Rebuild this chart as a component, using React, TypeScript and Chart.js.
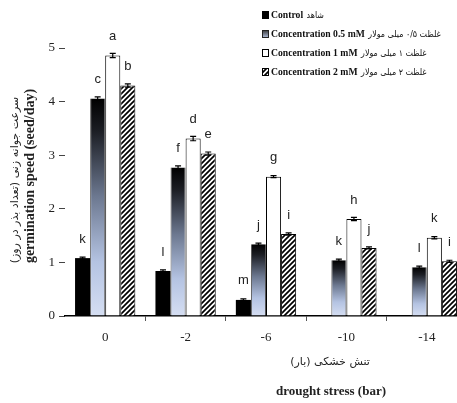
import React, { useEffect, useRef } from 'react';
import { Chart, registerables } from 'chart.js';
Chart.register(...registerables);

const categories = ['0', '-2', '-6', '-10', '-14'];
const controlValues = [1.08, 0.84, 0.3, 0, 0];
const c05Values = [4.06, 2.77, 1.34, 1.04, 0.91];
const c1Values = [4.86, 3.31, 2.6, 1.81, 1.46];
const c2Values = [4.3, 3.03, 1.53, 1.27, 1.02];

const controlErr = [0.02, 0.02, 0.02, 0, 0];
const c05Err = [0.03, 0.03, 0.02, 0.02, 0.02];
const c1Err = [0.04, 0.04, 0.02, 0.03, 0.02];
const c2Err = [0.03, 0.03, 0.02, 0.02, 0.02];

const controlLetters = ['k', 'l', 'm', '', ''];
const c05Letters = ['c', 'f', 'j', 'k', 'l'];
const c1Letters = ['a', 'd', 'g', 'h', 'k'];
const c2Letters = ['b', 'e', 'i', 'j', 'i'];

const seriesNamesEn = ['Control', 'Concentration 0.5 mM', 'Concentration 1 mM', 'Concentration 2 mM'];
const seriesNamesFa = ['شاهد', 'غلظت ۰/۵ میلی مولار', 'غلظت ۱ میلی مولار', 'غلظت ۲ میلی مولار'];

const yTitleFa = 'سرعت جوانه زنی (تعداد بذر در روز)';
const yTitleEn = 'germination speed (seed/day)';
const xTitleFa = 'تنش خشکی (بار)';
const xTitleEn = 'drought stress (bar)';

const SERIF = '"Liberation Serif", "DejaVu Serif", serif';
const FA = '"DejaVu Sans", "Noto Sans", sans-serif';

function makeHatch(): CanvasPattern | string {
  const s = 5;
  const c = document.createElement('canvas');
  c.width = s; c.height = s;
  const x = c.getContext('2d');
  if (!x) return '#666';
  x.fillStyle = '#fff';
  x.fillRect(0, 0, s, s);
  x.strokeStyle = '#000';
  x.lineWidth = 1.7;
  x.beginPath();
  x.moveTo(0, s); x.lineTo(s, 0);
  x.moveTo(-1, 1); x.lineTo(1, -1);
  x.moveTo(s - 1, s + 1); x.lineTo(s + 1, s - 1);
  x.stroke();
  return x.createPattern(c, 'repeat') || '#666';
}

function gradFill(chart: any, top: number, bottom: number) {
  const g = chart.ctx.createLinearGradient(0, top, 0, bottom);
  g.addColorStop(0, '#000000');
  g.addColorStop(0.15, '#1c1e24');
  g.addColorStop(0.45, '#6c7890');
  g.addColorStop(0.75, '#b4c3e2');
  g.addColorStop(1, '#d5def2');
  return g;
}

export default function App() {
  const ref = useRef<HTMLCanvasElement | null>(null);
  useEffect(() => {
    if (!ref.current) return;
    const hatch = makeHatch();
    const errs = [controlErr, c05Err, c1Err, c2Err];
    const letters = [controlLetters, c05Letters, c1Letters, c2Letters];

    const overlay = {
      id: 'overlay',
      afterDatasetsDraw(chart: any) {
        const ctx = chart.ctx;
        const y = chart.scales.y;
        ctx.save();
        chart.data.datasets.forEach((ds: any, di: number) => {
          const meta = chart.getDatasetMeta(di);
          meta.data.forEach((el: any, i: number) => {
            const v = ds.data[i];
            const e = errs[di][i];
            if (!v || !e) return;
            const y1 = y.getPixelForValue(v + e);
            const y2 = y.getPixelForValue(v - e);
            ctx.strokeStyle = '#000';
            ctx.lineWidth = 1.2;
            ctx.beginPath();
            ctx.moveTo(el.x, y1); ctx.lineTo(el.x, y2);
            ctx.moveTo(el.x - 3, y1); ctx.lineTo(el.x + 3, y1);
            ctx.moveTo(el.x - 3, y2); ctx.lineTo(el.x + 3, y2);
            ctx.stroke();
          });
        });
        ctx.fillStyle = '#222';
        ctx.font = '13px "Liberation Sans Narrow", "Liberation Sans", sans-serif';
        ctx.textAlign = 'center';
        ctx.textBaseline = 'middle';
        chart.data.datasets.forEach((ds: any, di: number) => {
          const meta = chart.getDatasetMeta(di);
          meta.data.forEach((el: any, i: number) => {
            const t = letters[di][i];
            if (!t) return;
            ctx.fillText(t, el.x, el.y - 19);
          });
        });
        ctx.restore();
      },
      afterDraw(chart: any) {
        const ctx = chart.ctx;
        ctx.save();
        const lx = 262;
        const rows = [15, 34, 53, 72];
        rows.forEach((ry, i) => {
          const bx = lx, by = ry - 4, bw = 7, bh = 8;
          if (i === 0) {
            ctx.fillStyle = '#000';
            ctx.fillRect(bx, by, bw, bh);
          } else if (i === 1) {
            const g = ctx.createLinearGradient(0, by, 0, by + bh);
            g.addColorStop(0, '#333');
            g.addColorStop(1, '#b8c6e4');
            ctx.fillStyle = g;
            ctx.fillRect(bx, by, bw, bh);
            ctx.strokeStyle = '#222';
            ctx.lineWidth = 1;
            ctx.strokeRect(bx + 0.5, by + 0.5, bw - 1, bh - 1);
          } else if (i === 2) {
            ctx.fillStyle = '#fff';
            ctx.fillRect(bx, by, bw, bh);
            ctx.strokeStyle = '#000';
            ctx.lineWidth = 1;
            ctx.strokeRect(bx + 0.5, by + 0.5, bw - 1, bh - 1);
          } else {
            ctx.fillStyle = hatch;
            ctx.fillRect(bx, by, bw, bh);
            ctx.strokeStyle = '#000';
            ctx.lineWidth = 1;
            ctx.strokeRect(bx + 0.5, by + 0.5, bw - 1, bh - 1);
          }
          ctx.fillStyle = '#111';
          ctx.textBaseline = 'middle';
          ctx.textAlign = 'left';
          ctx.save();
          ctx.translate(lx + 9, ry + 0.5);
          ctx.scale(0.88, 1);
          ctx.font = 'bold 11px ' + SERIF;
          ctx.fillText(seriesNamesEn[i], 0, 0);
          const w = ctx.measureText(seriesNamesEn[i]).width;
          ctx.font = '9px ' + FA;
          ctx.fillText(seriesNamesFa[i], w + 4, 0);
          ctx.restore();
        });
        ctx.fillStyle = '#222';
        ctx.textAlign = 'center';
        ctx.textBaseline = 'middle';
        ctx.save();
        ctx.translate(15, 180);
        ctx.rotate(-Math.PI / 2);
        ctx.font = '11px ' + FA;
        ctx.fillText(yTitleFa, 0, 0);
        ctx.restore();
        ctx.save();
        ctx.translate(30, 176);
        ctx.rotate(-Math.PI / 2);
        ctx.font = 'bold 14px ' + SERIF;
        ctx.fillText(yTitleEn, 0, 0);
        ctx.restore();
        ctx.font = '11px ' + FA;
        ctx.fillText(xTitleFa, 330, 362);
        ctx.font = 'bold 13px ' + SERIF;
        ctx.fillText(xTitleEn, 331, 392);
        ctx.restore();
      },
    };

    const chart = new Chart(ref.current, {
      type: 'bar',
      data: {
        labels: categories,
        datasets: [
          { label: seriesNamesEn[0], data: controlValues, backgroundColor: '#000', borderWidth: 0 },
          {
            label: seriesNamesEn[1], data: c05Values,
            backgroundColor: (c: any) => {
              const chart = c.chart;
              if (!chart.chartArea || c.type !== 'data') return '#7080a0';
              const y = chart.scales.y;
              return gradFill(chart, y.getPixelForValue(c.raw), y.getPixelForValue(0));
            },
            borderColor: '#555', borderWidth: { left: 1, right: 1, top: 0, bottom: 0 } as any,
          },
          { label: seriesNamesEn[2], data: c1Values, backgroundColor: '#fff', borderColor: '#000', borderWidth: 1 },
          { label: seriesNamesEn[3], data: c2Values, backgroundColor: hatch as any, borderColor: '#000', borderWidth: 1 },
        ],
      },
      options: {
        animation: false,
        responsive: true,
        maintainAspectRatio: false,
        layout: { padding: { top: 48, right: 8, left: 0, bottom: 0 } },
        plugins: { legend: { display: false }, tooltip: { enabled: false } },
        datasets: { bar: { categoryPercentage: 0.75, barPercentage: 1.0 } } as any,
        scales: {
          x: {
            grid: {
              offset: true,
              drawOnChartArea: false,
              tickLength: 5,
              color: (c: any) => (c.index === 0 ? 'rgba(0,0,0,0)' : '#555'),
            },
            border: { display: true, color: '#000', width: 1.5 },
            ticks: { color: '#222', font: { family: SERIF, size: 13 }, padding: 9 },
            afterFit: (s: any) => { s.height = 87; },
          },
          y: {
            min: 0, max: 5,
            ticks: { stepSize: 1, color: '#222', font: { family: SERIF, size: 13 }, padding: 4 },
            grid: { drawOnChartArea: false, tickLength: 6, color: '#444' },
            border: { display: false },
            afterFit: (s: any) => { s.width = 65; },
          },
        },
      },
      plugins: [overlay],
    });
    return () => chart.destroy();
  }, []);

  return (
    <div style={{ position: 'absolute', left: 0, top: 0, width: 457, height: 403, overflow: 'hidden', background: '#fff' }}>
      <div style={{ position: 'relative', width: 475, height: 403 }}>
        <canvas ref={ref} />
      </div>
    </div>
  );
}
